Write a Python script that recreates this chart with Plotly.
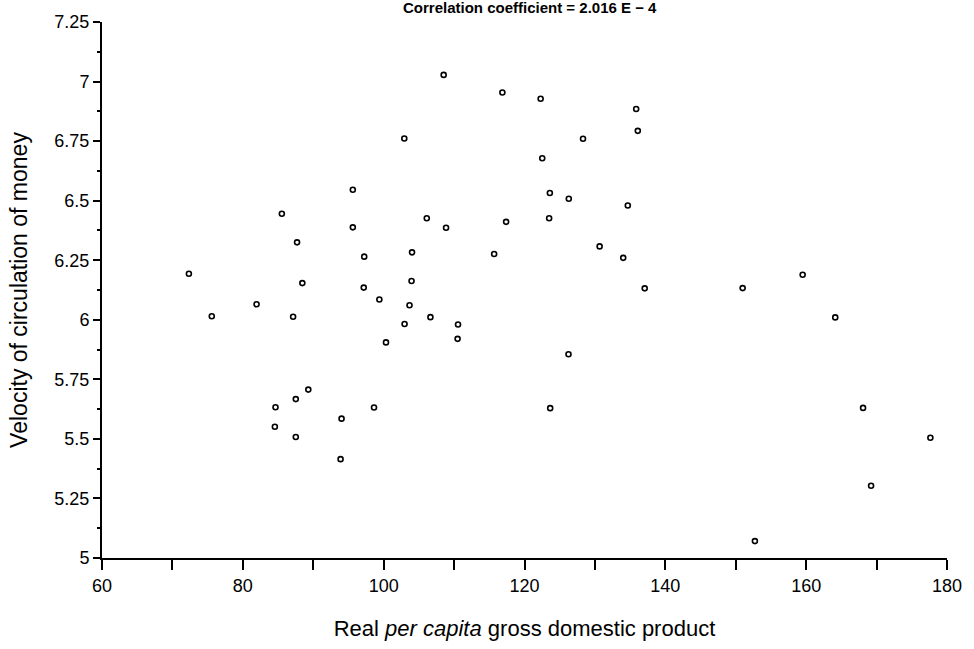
import plotly.graph_objects as go

# Real per capita GDP (x) and velocity of circulation of money (y)
gdp = [72.34, 75.59, 81.95, 84.55, 84.64, 85.54, 87.14, 87.52, 87.52, 87.70,
       88.45, 89.30, 93.88, 94.02, 95.62, 95.62, 97.17, 97.24, 98.63, 99.39,
       100.33, 102.93, 102.97, 103.67, 103.96, 104.03, 106.12, 106.64, 108.52, 108.86,
       110.50, 110.56, 115.69, 116.86, 117.39, 122.29, 122.52, 123.50, 123.60, 123.65,
       126.25, 126.29, 128.31, 130.67, 134.02, 134.67, 135.86, 136.09, 137.07, 150.98,
       152.72, 159.50, 164.13, 168.08, 169.22, 177.64]
velocity = [6.193, 6.015, 6.065, 5.551, 5.633, 6.445, 6.013, 5.667, 5.508, 6.325,
            6.154, 5.707, 5.415, 5.585, 6.546, 6.388, 6.135, 6.265, 5.632, 6.085,
            5.905, 6.761, 5.982, 6.061, 6.163, 6.283, 6.426, 6.011, 7.028, 6.386,
            5.920, 5.980, 6.276, 6.954, 6.411, 6.928, 6.678, 6.426, 6.532, 5.629,
            5.855, 6.508, 6.760, 6.308, 6.260, 6.480, 6.885, 6.793, 6.132, 6.133,
            5.071, 6.189, 6.010, 5.630, 5.303, 5.505]

x_tick_vals = [60, 80, 100, 120, 140, 160, 180]
x_tick_text = ["60", "80", "100", "120", "140", "160", "180"]
y_tick_vals = [5, 5.25, 5.5, 5.75, 6, 6.25, 6.5, 6.75, 7, 7.25]
y_tick_text = ["5", "5.25", "5.5", "5.75", "6", "6.25", "6.5", "6.75", "7", "7.25"]

title_text = "Correlation coefficient = 2.016 E \u2212 4"
x_title = "Real <i>per capita</i> gross domestic product"
y_title = "Velocity of circulation of money"

FONT = "Liberation Sans, Arial, sans-serif"

fig = go.Figure()
fig.add_trace(go.Scatter(
    x=gdp, y=velocity, mode="markers",
    marker=dict(symbol="circle-open", size=5, color="black", line=dict(width=1.6, color="black")),
    showlegend=False,
))

fig.update_layout(
    width=974, height=649,
    margin=dict(l=102, r=23, t=18, b=89),
    paper_bgcolor="white", plot_bgcolor="white",
    font=dict(family=FONT, color="black", size=18),
    annotations=[dict(
        text="<b>" + title_text + "</b>", xref="paper", yref="paper",
        x=0.507, y=1.0 + 15 / 542, xanchor="center", yanchor="middle",
        showarrow=False, font=dict(family=FONT, size=15, color="black"),
    )],
)

fig.update_xaxes(
    range=[60, 180], showgrid=False, zeroline=False,
    showline=True, linecolor="black", linewidth=2,
    tickmode="array", tickvals=x_tick_vals, ticktext=x_tick_text,
    ticks="outside", ticklen=10, tickwidth=1.5, tickcolor="black",
    minor=dict(dtick=10, ticks="outside", ticklen=10, tickwidth=1.5, tickcolor="black", showgrid=False),
    tickfont=dict(family=FONT, size=18),
    title=dict(text=x_title, font=dict(family=FONT, size=22), standoff=26),
)
fig.update_yaxes(
    range=[5, 7.25], showgrid=False, zeroline=False,
    showline=True, linecolor="black", linewidth=2,
    tickmode="array", tickvals=y_tick_vals, ticktext=y_tick_text,
    ticks="outside", ticklen=7, tickwidth=1.5, tickcolor="black",
    minor=dict(dtick=0.125, ticks="outside", ticklen=3, tickwidth=1.5, tickcolor="black", showgrid=False),
    tickfont=dict(family=FONT, size=18),
    title=dict(text=y_title, font=dict(family=FONT, size=23), standoff=20),
)

fig.write_html(
    "out.html",
    config={"displayModeBar": False},
    post_script="document.body.style.margin='0';document.body.style.overflow='hidden';",
)
